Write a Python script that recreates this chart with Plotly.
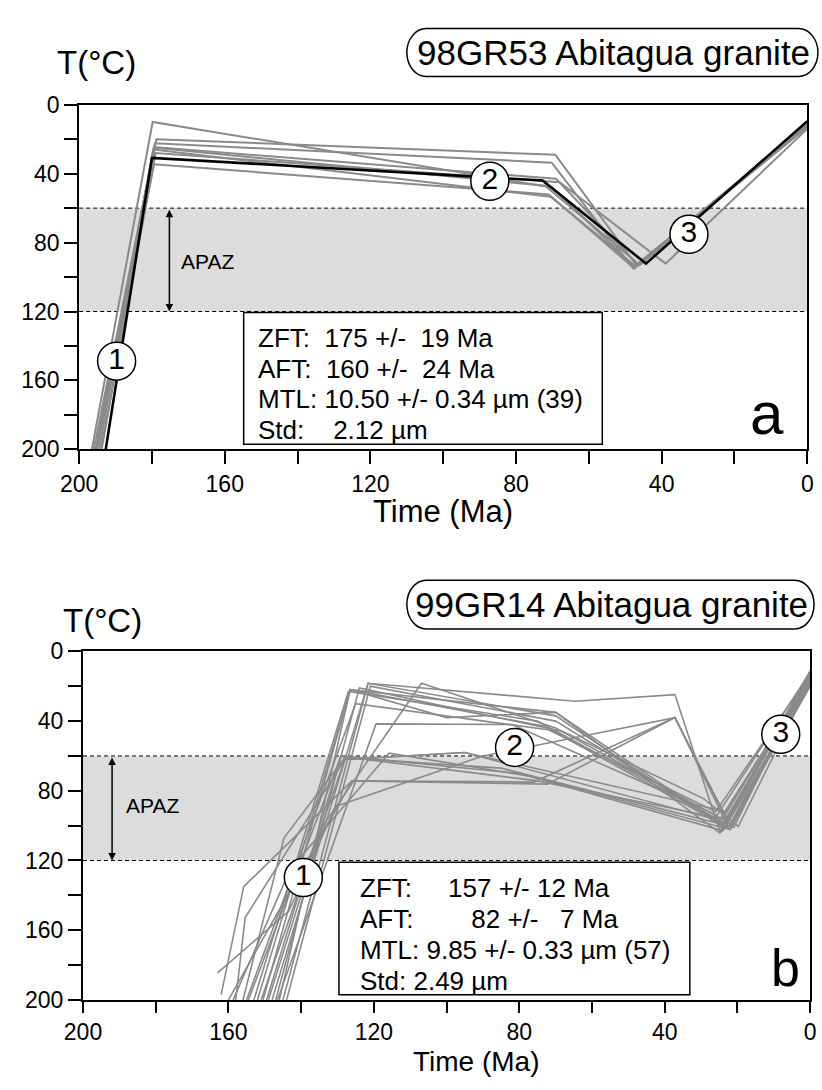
import plotly.graph_objects as go

W, H = 822, 1090
FONT = "Liberation Sans, Arial, Helvetica, sans-serif"

# ---------------- data ----------------
apaz_limits = [60, 120]
x_ticks = [200, 160, 120, 80, 40, 0]
y_ticks = [0, 40, 80, 120, 160, 200]

# Panel a : modelled t-T paths (time Ma, temperature °C)
a_gray_time = [
    [196.5, 179.8, 70.0, 47.5, 0],
    [196.0, 178.8, 69.2, 47.0, 0],
    [195.5, 179.2, 70.2, 47.8, 0],
    [195.0, 179.5, 69.0, 46.5, 0],
    [194.5, 179.6, 70.5, 47.0, 0],
    [194.0, 179.0, 68.0, 38.9, 0],
    [195.2, 179.4, 71.0, 47.5, 0],
    [193.8, 179.2, 72.0, 46.0, 0],
]
a_gray_temp = [
    [200, 10.0, 48.0, 94.0, 12],
    [200, 20.0, 29.0, 93.0, 12],
    [200, 22.3, 33.6, 95.0, 11],
    [200, 24.6, 43.0, 93.0, 13],
    [200, 26.0, 53.4, 94.0, 12],
    [200, 28.0, 45.0, 92.2, 14],
    [200, 34.6, 52.0, 95.0, 12],
    [200, 25.0, 47.0, 93.0, 11],
]
a_best_time = [192.7, 180.0, 72.7, 44.3, 0]
a_best_temp = [200, 30.8, 44.0, 92.2, 9.5]

# Panel b : modelled t-T paths
b_gray_time = [
    [150.5, 126.5, 70.0, 25.0, 0],
    [148.0, 121.6, 70.0, 24.0, 0],
    [145.0, 121.6, 64.7, 37.2, 24.7, 0],
    [152.0, 126.5, 73.0, 22.0, 0],
    [147.0, 124.0, 68.0, 29.2, 19.8, 0],
    [149.0, 134.0, 106.9, 70.0, 23.5, 0],
    [154.5, 129.1, 76.0, 24.0, 0],
    [151.0, 128.0, 95.0, 23.0, 0],
    [146.5, 119.4, 82.0, 25.6, 0],
    [158.7, 143.0, 115.8, 76.0, 22.0, 0],
    [162.0, 155.8, 126.0, 72.3, 37.2, 22.5, 0],
    [163.0, 143.4, 130.5, 90.0, 37.2, 22.0, 0],
    [155.0, 125.0, 72.0, 26.0, 0],
    [144.0, 121.0, 70.0, 24.0, 0],
    [149.5, 129.0, 80.0, 24.0, 0],
    [156.0, 144.7, 128.0, 85.0, 21.0, 0],
    [160.0, 126.0, 76.0, 37.2, 22.0, 0],
    [153.0, 127.0, 75.0, 23.0, 0],
    [146.0, 126.5, 100.0, 70.0, 24.0, 0],
    [158.0, 155.4, 128.0, 95.0, 25.0, 0],
]
b_gray_temp = [
    [200, 22.0, 35.0, 104.0, 12],
    [200, 18.3, 37.0, 101.0, 14],
    [200, 18.3, 28.6, 24.8, 104.2, 11],
    [200, 22.0, 43.0, 102.0, 16],
    [200, 21.0, 46.0, 84.6, 100.5, 18],
    [200, 100.0, 18.3, 44.0, 97.0, 15],
    [200, 60.3, 74.0, 96.0, 13],
    [200, 62.0, 58.0, 92.0, 14],
    [200, 41.6, 42.0, 94.0, 12],
    [200, 125.0, 58.4, 72.0, 102.3, 17],
    [197, 135.0, 74.3, 76.2, 37.9, 101.0, 15],
    [184.5, 149.0, 89.0, 60.0, 38.0, 100.0, 16],
    [200, 30.0, 45.0, 92.0, 13],
    [200, 20.0, 40.0, 99.0, 16],
    [200, 60.0, 70.0, 103.0, 19],
    [200, 107.0, 61.0, 67.0, 101.0, 12],
    [200, 74.3, 75.0, 38.0, 100.0, 20],
    [200, 23.0, 40.0, 99.0, 14],
    [200, 22.0, 38.0, 35.0, 100.0, 13],
    [200, 152.8, 62.0, 58.0, 97.0, 15],
]

marker_labels = ["1", "2", "3"]
a_marker_time = [189.7, 87.2, 32.5]
a_marker_temp = [148.8, 44.4, 75.2]
b_marker_time = [139.4, 81.3, 8.1]
b_marker_temp = [129.8, 55.1, 47.6]

NB = "\u00a0"
a_info = ["ZFT:  175 +/-  19 Ma", "AFT:  160 +/-  24 Ma",
          "MTL: 10.50 +/- 0.34 \u00b5m (39)", "Std:    2.12 \u00b5m"]
b_info = ["ZFT:     157 +/- 12 Ma", "AFT:        82 +/-   7 Ma",
          "MTL: 9.85 +/- 0.33 \u00b5m (57)", "Std: 2.49 \u00b5m"]
a_title = "98GR53 Abitagua granite"
b_title = "99GR14 Abitagua granite"


# ---------------- layout helpers ----------------
def X(p):
    return p / W


def Y(p):
    return 1 - p / H


GRAY = "rgb(138,138,138)"
fig = go.Figure()

for tt, TT in zip(a_gray_time, a_gray_temp):
    fig.add_trace(go.Scatter(x=tt, y=TT, mode="lines", xaxis="x", yaxis="y",
                             line=dict(color=GRAY, width=2), hoverinfo="skip"))
fig.add_trace(go.Scatter(x=a_best_time, y=a_best_temp, mode="lines", xaxis="x", yaxis="y",
                         line=dict(color="black", width=2.6), hoverinfo="skip"))
for tt, TT in zip(b_gray_time, b_gray_temp):
    fig.add_trace(go.Scatter(x=tt, y=TT, mode="lines", xaxis="x2", yaxis="y2",
                             line=dict(color=GRAY, width=1.6), hoverinfo="skip"))

for xs, ys, xa, ya in [(a_marker_time, a_marker_temp, "x", "y"),
                       (b_marker_time, b_marker_temp, "x2", "y2")]:
    fig.add_trace(go.Scatter(x=xs, y=ys, mode="markers+text", xaxis=xa, yaxis=ya,
                             text=marker_labels, textposition="middle center",
                             textfont=dict(family=FONT, size=30, color="black"),
                             marker=dict(symbol="circle", size=38, color="white",
                                         line=dict(color="black", width=1.5)),
                             hoverinfo="skip"))


def axis(domain, anchor, tlen=13):
    return dict(domain=domain, anchor=anchor, range=[200, 0], showline=True,
                linecolor="black", linewidth=2, mirror=True, showgrid=False,
                zeroline=False, ticks="outside", ticklen=tlen, tickwidth=1.5,
                tickcolor="black", tickmode="array",
                tickfont=dict(family=FONT, size=23, color="black"),
                minor=dict(ticks="outside", ticklen=tlen, tickwidth=1.5,
                           tickcolor="black", dtick=20, tick0=0, showgrid=False))


xa = axis([X(62), X(813)], "y"); xa["tickvals"] = x_ticks
ya = axis([Y(447), Y(94)], "x"); ya["tickvals"] = y_ticks
xb = axis([X(66), X(816)], "y2", tlen=11); xb["tickvals"] = x_ticks
yb = axis([Y(1011), Y(654)], "x2"); yb["tickvals"] = y_ticks

shapes = []
annotations = []


def stadium(L, R, T, B, rx):
    ry = (B - T) / 2
    cy = (T + B) / 2
    k = 0.5523
    return (f"M {X(L+rx)},{Y(T)} L {X(R-rx)},{Y(T)} "
            f"C {X(R-rx+k*rx)},{Y(T)} {X(R)},{Y(cy-k*ry)} {X(R)},{Y(cy)} "
            f"C {X(R)},{Y(cy+k*ry)} {X(R-rx+k*rx)},{Y(B)} {X(R-rx)},{Y(B)} "
            f"L {X(L+rx)},{Y(B)} "
            f"C {X(L+rx-k*rx)},{Y(B)} {X(L)},{Y(cy+k*ry)} {X(L)},{Y(cy)} "
            f"C {X(L)},{Y(cy-k*ry)} {X(L+rx-k*rx)},{Y(T)} {X(L+rx)},{Y(T)} Z")


panels = [
    dict(xr="x", yr="y", arrow_t=175.2, apaz_t=172.5, apaz_T=91,
         box=(154.8, 56.3, 120.6, 197), text_t=151.3, text_T=[135.4, 153.5, 170.5, 188.7],
         info=a_info, letter="a", letter_pos=(771, 410), letter_size=60,
         title=a_title, tbox=(400, 824, 16, 65), title_y=40,
         tlab=(80, 51), time_lab=(437, 511), time_size=31),
    dict(xr="x2", yr="y2", arrow_t=192.0, apaz_t=188.8, apaz_T=88.5,
         box=(129.6, 33.1, 121, 197), text_t=124.3, text_T=[136, 153.5, 171.4, 189.4],
         info=b_info, letter="b", letter_pos=(791, 978), letter_size=52,
         title=b_title, tbox=(400, 820, 581, 631), title_y=606,
         tlab=(86, 622), time_lab=(472, 1074), time_size=28),
]

for p in panels:
    xr, yr = p["xr"], p["yr"]
    shapes.append(dict(type="rect", xref=xr, yref=yr, x0=200, x1=0,
                       y0=apaz_limits[0], y1=apaz_limits[1],
                       fillcolor="rgb(220,220,220)", line=dict(width=0), layer="below"))
    for lim in apaz_limits:
        shapes.append(dict(type="line", xref=xr, yref=yr, x0=200, x1=0, y0=lim, y1=lim,
                           line=dict(color="black", width=1, dash="4px,3px"), layer="below"))
    b0, b1, b2, b3 = p["box"]
    shapes.append(dict(type="rect", xref=xr, yref=yr, x0=b0, x1=b1, y0=b2, y1=b3,
                       fillcolor="white", line=dict(color="black", width=1.5), layer="above"))
    L, R, T, B = p["tbox"]
    shapes.append(dict(type="path", xref="paper", yref="paper", path=stadium(L, R, T, B, 20),
                       fillcolor="white", line=dict(color="black", width=1.5)))
    # APAZ double arrow
    annotations.append(dict(xref=xr, yref=yr, axref=xr, ayref=yr, x=p["arrow_t"], y=apaz_limits[1],
                            ax=p["arrow_t"], ay=apaz_limits[0], text="", showarrow=True,
                            arrowhead=2, startarrowhead=2, arrowside="end+start",
                            arrowwidth=1.5, arrowsize=1, arrowcolor="black",
                            standoff=0, startstandoff=0))
    annotations.append(dict(xref=xr, yref=yr, x=p["apaz_t"], y=p["apaz_T"], text="APAZ",
                            showarrow=False, xanchor="left", yanchor="middle",
                            font=dict(family=FONT, size=21, color="black")))
    for line, T_ in zip(p["info"], p["text_T"]):
        annotations.append(dict(xref=xr, yref=yr, x=p["text_t"], y=T_,
                                text=line.replace(" ", NB), showarrow=False,
                                xanchor="left", yanchor="middle",
                                font=dict(family=FONT, size=26, color="black")))
    lx, ly = p["letter_pos"]
    annotations.append(dict(xref="paper", yref="paper", x=X(lx), y=Y(ly), text=p["letter"],
                            showarrow=False, xanchor="center", yanchor="middle",
                            font=dict(family=FONT, size=p["letter_size"], color="black")))
    annotations.append(dict(xref="paper", yref="paper", x=X((L + R) / 2 + 1), y=Y(p["title_y"]),
                            text=p["title"], showarrow=False, xanchor="center", yanchor="middle",
                            font=dict(family=FONT, size=35, color="black")))
    tx, ty = p["tlab"]
    annotations.append(dict(xref="paper", yref="paper", x=X(tx), y=Y(ty), text="T(\u00b0C)",
                            showarrow=False, xanchor="center", yanchor="middle",
                            font=dict(family=FONT, size=33, color="black")))
    mx, my = p["time_lab"]
    annotations.append(dict(xref="paper", yref="paper", x=X(mx), y=Y(my), text="Time (Ma)",
                            showarrow=False, xanchor="center", yanchor="middle",
                            font=dict(family=FONT, size=p["time_size"], color="black")))

fig.update_layout(
    width=W, height=H, margin=dict(l=0, r=0, t=0, b=0),
    paper_bgcolor="white", plot_bgcolor="white", showlegend=False,
    xaxis=xa, yaxis=ya, xaxis2=xb, yaxis2=yb,
    shapes=shapes, annotations=annotations,
)

fig.write_html("out.html")
